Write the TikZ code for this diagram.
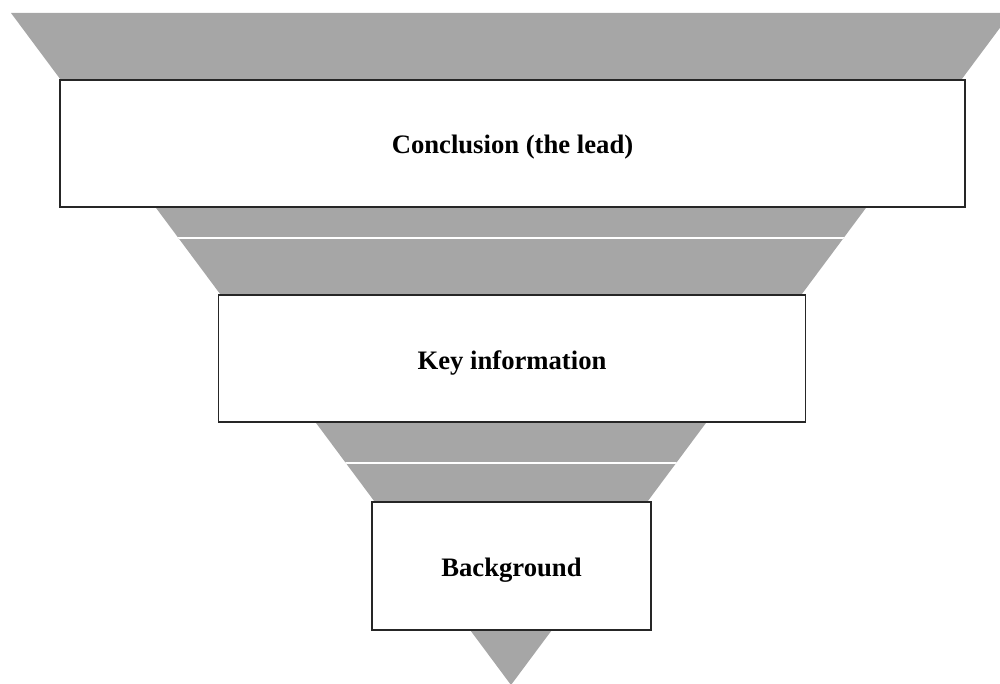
\documentclass[tikz,border=0pt]{standalone}
\usepackage{fontspec}
\setmainfont{Liberation Serif}
\definecolor{funnelgray}{RGB}{166,166,166}
% drop a stage title a little below the box's geometric centre
\newcommand{\stagetitle}[1]{\raisebox{-3pt}[\height][\depth]{#1}}
\begin{document}
\begin{tikzpicture}[x=0.75pt,y=-0.75pt,
  stagebox/.style={draw=black!85, line width=1.1pt, fill=white, inner sep=0pt,
    font=\fontsize{20}{24}\selectfont\bfseries},
  divider/.style={draw=white, line width=1.2pt}]
\useasboundingbox (0,0) rectangle (1000,684);
\begin{scope}
  \clip (0,0) rectangle (1000,684);
  % inverted funnel
  \fill[funnelgray] (11,13) -- (1011,13) -- (511,685) -- cycle;
  % thin white dividers inside the funnel
  \begin{scope}
    \clip (11,13) -- (1011,13) -- (511,685) -- cycle;
    \draw[divider] (0,238) -- (1000,238);
    \draw[divider] (0,463) -- (1000,463);
  \end{scope}
\end{scope}
% stages
\node[stagebox, minimum width=678.75pt, minimum height=95.25pt] (lead) at (512.5,143.5) {\stagetitle{Conclusion (the lead)}};
\node[stagebox, minimum width=440.25pt, minimum height=95.25pt] (key) at (512,358.5) {\stagetitle{Key information}};
\node[stagebox, minimum width=209.25pt, minimum height=96pt] (bg) at (511.5,566) {\stagetitle{Background}};
\end{tikzpicture}
\end{document}
